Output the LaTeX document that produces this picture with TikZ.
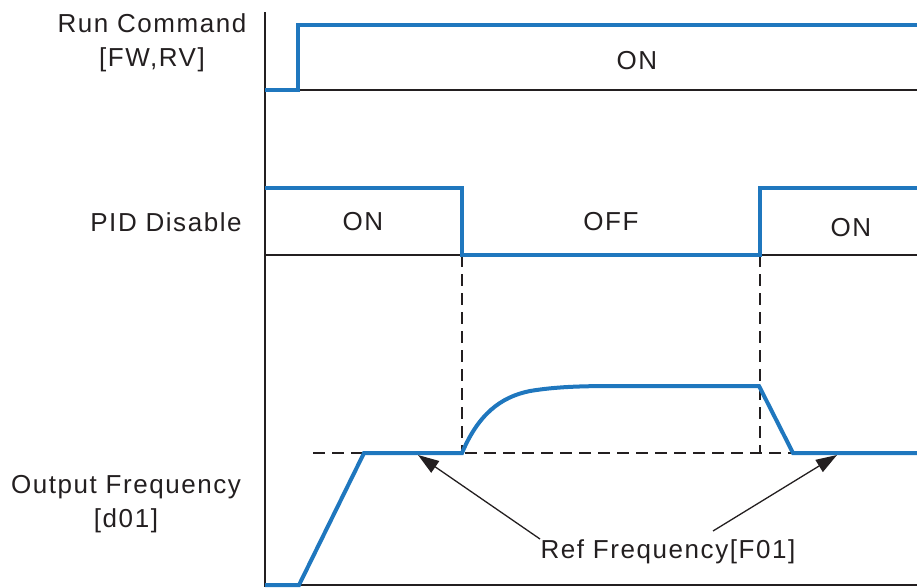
\documentclass[tikz,border=0pt]{standalone}
\usepackage{fontspec}
\setmainfont{Liberation Sans}[LetterSpace=6]
\usetikzlibrary{arrows.meta}
\definecolor{wave}{HTML}{1F77BE}
\definecolor{ink}{HTML}{231F20}
\tikzset{
  sig/.style={wave, line width=4pt, line join=miter},
  base/.style={ink, line width=1.4pt},
  guide/.style={ink, line width=1.3pt, dash pattern=on 12pt off 7pt},
  lbl/.style={font=\fontsize{26}{34}\selectfont, text=ink, inner sep=0pt, align=center},
  ptr/.style={ink, line width=1.3pt, -{Triangle[length=21pt,width=14pt]}, shorten >=0pt}
}
\begin{document}
\begin{tikzpicture}[x=1pt,y=-1pt]
\useasboundingbox (0,0) rectangle (917,587);
% axis
\draw[base] (265,12) -- (265,587);
% baselines
\draw[base] (265,90) -- (917,90);
\draw[base] (265,255) -- (917,255);
\draw[base] (265,585) -- (917,585);
% dashed guides
\draw[guide] (462,255) -- (462,453);
\draw[guide] (760,255) -- (760,453);
\draw[guide] (313,453) -- (917,453);
% run command
\draw[sig] (265,90) -- (298,90) -- (298,25) -- (917,25);
% PID disable
\draw[sig] (265,188) -- (462,188) -- (462,255) -- (760,255) -- (760,188) -- (917,188);
% output frequency
\draw[sig] (265,585) -- (299,585) -- (364,453) -- (462,453)
  .. controls (478,415) and (500,397) .. (530,391)
  .. controls (560,386) and (590,386) .. (625,386) -- (759,386) -- (793,453) -- (917,453);
% labels
\node[lbl] (runlbl) at (152,43) {Run Command\\{[FW,RV]}};
\node[lbl] (pidlbl) at (166,222) {PID Disable};
\node[lbl] (outlbl) at (126,504) {Output Frequency\\{[d01]}};
\node[lbl] (runon) at (637,61) {ON};
\node[lbl] (pidon1) at (363,222) {ON};
\node[lbl] (pidoff) at (611,222) {OFF};
\node[lbl] (pidon2) at (851,228) {ON};
\node[lbl] (ref) at (668,552) {Ref Frequency[F01]};
\coordinate (tipL) at (418,455);
\coordinate (tipR) at (837,455);
\draw[ptr] (540,539) -- (tipL);
\draw[ptr] (713,531) -- (tipR);
\end{tikzpicture}
\end{document}
